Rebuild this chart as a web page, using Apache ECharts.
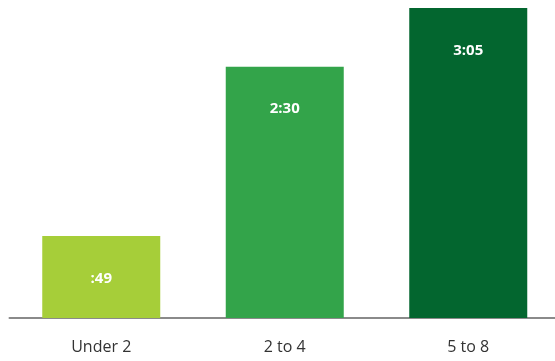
<!DOCTYPE html>
<html><head><meta charset="utf-8">
<script src="https://cdn.jsdelivr.net/npm/echarts@6/dist/echarts.min.js"></script>
<style>html,body{margin:0;padding:0;background:#fff}#c{width:555px;height:361px}</style>
</head><body><div id="c"></div>
<script>
const categories = ['Under 2', '2 to 4', '5 to 8'];
const minutes = [49, 150, 185];
const colors = ['#a6ce39', '#33a44a', '#03662f'];
function fmt(m){const h=Math.floor(m/60), mm=String(m%60).padStart(2,'0');return (h?h:'')+':'+mm;}
const chart = echarts.init(document.getElementById('c'));
chart.setOption({
  animation:false,
  grid:{left:9.5,top:8,bottom:43,width:550.5,outerBoundsMode:'none',containLabel:false},
  xAxis:{type:'category',data:categories,
    axisLine:{lineStyle:{color:'#8a8a8a',width:2}},axisTick:{show:false},
    axisLabel:{color:'#333',fontSize:16,fontFamily:'Open Sans, sans-serif',margin:21}},
  yAxis:{type:'value',min:0,max:185,show:false,splitLine:{show:false}},
  series:[{type:'bar',barWidth:118,
    data:minutes.map((v,i)=>({value:v,itemStyle:{color:colors[i]}})),
    label:{show:true,position:'insideTop',distance:35,color:'#fff',fontWeight:'bold',fontSize:15,
      fontFamily:'Open Sans, sans-serif',formatter:p=>fmt(p.value)}}]
});
</script></body></html>
